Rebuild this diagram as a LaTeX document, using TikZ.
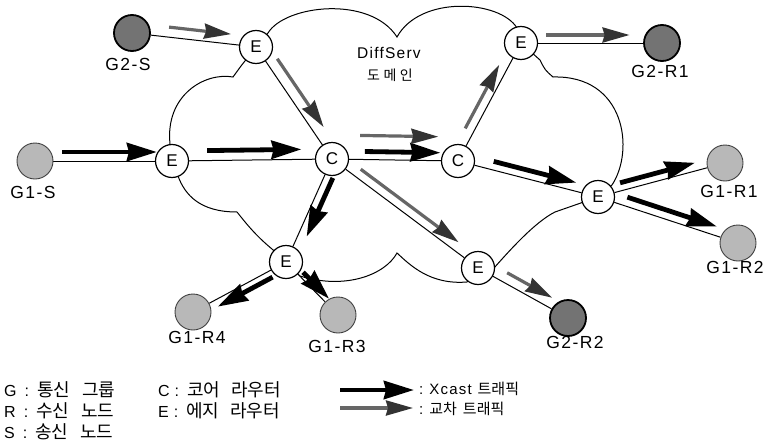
\documentclass[tikz,border=0pt]{standalone}
\usepackage{fontspec}
\setmainfont{Liberation Sans}
\newfontfamily\krl{Noto Sans CJK KR}
\newfontfamily\krd[LetterSpace=25]{Noto Sans CJK KR}
\newfontfamily\lbl[LetterSpace=8]{Liberation Sans}
\newfontfamily\lat[LetterSpace=8]{Liberation Sans}
\usetikzlibrary{arrows.meta,calc,backgrounds}

\tikzset{
  router/.style={circle,draw,line width=1.2pt,fill=white,minimum size=33pt,inner sep=0pt,font=\fontsize{17}{17}\selectfont},
  grpA/.style={circle,draw=black!75,line width=0.9pt,fill=black!28,minimum size=36pt,inner sep=0pt},
  grpB/.style={circle,draw=black,line width=1.8pt,fill=black!55,minimum size=36pt,inner sep=0pt},
  glabel/.style={font=\lbl\fontsize{17.5}{17.5}\selectfont,inner sep=0pt},
  legtext/.style={font=\lat\fontsize{16}{16}\selectfont,anchor=west,inner sep=0pt},
  legsmall/.style={font=\lat\fontsize{15}{15}\selectfont,anchor=west,inner sep=0pt},
  link/.style={line width=1pt},
  cloudline/.style={line width=1pt},
  xcast/.style={line width=4.8pt,-{Stealth[length=30pt,width=18pt,inset=2pt]}},
  cross/.style={line width=3.2pt,draw=black!60,-{Stealth[length=27pt,width=15pt,inset=2pt,color=black!80]}},
}

\newcommand\flow[6]{%
  \draw[#1] ($(#2)!#4!(#3)!#6!90:(#3)$) -- ($(#3)!#5!(#2)!#6!-90:(#2)$);}
\newcommand\kk[1]{{\krl\fontsize{18}{18}\selectfont #1}}
\newcommand\ks[1]{{\krl\fontsize{15}{15}\selectfont #1}}

\begin{document}
\begin{tikzpicture}[x=1pt,y=-1pt]
\useasboundingbox (0,0) rectangle (765,447);

% routers
\node[router] (E1) at (256,47) {E};
\node[router] (E2) at (172,161) {E};
\node[router] (C1) at (332,159) {C};
\node[router] (C2) at (458,161) {C};
\node[router] (E3) at (521,43) {E};
\node[router] (E4) at (598,197) {E};
\node[router] (E5) at (478,268) {E};
\node[router] (E6) at (286,262) {E};

% groups
\node[grpB] (G2S) at (132,33) {};
\node[grpA] (G1S) at (35,161) {};
\node[grpB] (G2R1) at (662,43) {};
\node[grpA] (G1R1) at (725,163) {};
\node[grpA] (G1R2) at (738,243) {};
\node[grpB] (G2R2) at (568,318) {};
\node[grpA] (G1R4) at (193,312) {};
\node[grpA] (G1R3) at (338,315) {};

% group labels
\node[glabel] (lG2S) at (128,64) {G2-S};
\node[glabel] (lG1S) at (33,192) {G1-S};
\node[glabel] (lG2R1) at (660,71) {G2-R1};
\node[glabel] (lG1R1) at (729,191) {G1-R1};
\node[glabel] (lG1R2) at (735,267) {G1-R2};
\node[glabel] (lG1R4) at (197,337) {G1-R4};
\node[glabel] (lG1R3) at (337,346) {G1-R3};
\node[glabel] (lG2R2) at (575,342) {G2-R2};

% domain label
\node[font=\lat\fontsize{15.5}{15.5}\selectfont,inner sep=0pt] (ds) at (389,53) {DiffServ};
\node[font=\krd\fontsize{14}{14}\selectfont,inner sep=0pt] (dm) at (390,75) {도메인};

\begin{pgfonlayer}{background}
% cloud
\draw[cloudline] (E1.center) -- (268,33) .. controls (285,5) and (370,-5) .. (397,37)
  .. controls (420,-5) and (500,0) .. (517,28) -- (E3.center) -- (540,60)
  .. controls (545,70) .. (553,77)
  .. controls (625,75) and (635,150) .. (612,185) -- (E4.center) -- (555,212)
  .. controls (535,222) and (510,250) .. (494,268) -- (E5.center) -- (467,282)
  .. controls (430,285) and (410,265) .. (397,253)
  .. controls (385,275) and (345,290) .. (300,276) -- (E6.center) -- (272,249)
  .. controls (255,235) and (245,222) .. (237,212)
  .. controls (200,212) and (185,195) .. (178,176) -- (E2.center) -- (170,144)
  .. controls (165,95) and (205,72) .. (233,77) -- (241,66) -- (E1.center);
% links
\draw[link] (G2S) -- (E1);
\draw[link] (E1) -- (C1);
\draw[link] (G1S) -- (E2);
\draw[link] (E2) -- (C1);
\draw[link] (C1) -- (C2);
\draw[link] (C2) -- (E3);
\draw[link] (E3) -- (G2R1);
\draw[link] (C2) -- (E4);
\draw[link] (E4) -- (G1R1);
\draw[link] (E4) -- (G1R2);
\draw[link] (C1) -- (E6);
\draw[link] (E6) -- (G1R4);
\draw[link] (E6) -- (G1R3);
\draw[link] (C1) -- (E5);
\draw[link] (E5) -- (G2R2);
\end{pgfonlayer}

% traffic arrows
\flow{xcast}{G1S}{E2}{0.20}{0.11}{9pt}
\flow{xcast}{E2}{C1}{0.22}{0.19}{10pt}
\flow{cross}{G2S}{E1}{0.29}{0.21}{10pt}
\flow{cross}{E1}{C1}{0.16}{0.23}{11pt}
\flow{xcast}{C1}{C2}{0.26}{0.14}{8pt}
\flow{cross}{C1}{C2}{0.22}{0.16}{24pt}
\flow{cross}{C2}{E3}{0.24}{0.22}{9pt}
\flow{cross}{E3}{G2R1}{0.18}{0.23}{8pt}
\flow{xcast}{C2}{E4}{0.24}{0.17}{8.5pt}
\flow{xcast}{E4}{G1R1}{0.19}{0.22}{8pt}
\flow{xcast}{E4}{G1R2}{0.19}{0.17}{9pt}
\flow{xcast}{C1}{E6}{0.15}{0.28}{8.5pt}
\flow{xcast}{E6}{G1R4}{0.18}{0.23}{7pt}
\flow{xcast}{E6}{G1R3}{0.26}{0.24}{5pt}
\flow{cross}{C1}{E5}{0.16}{0.17}{9pt}
\flow{cross}{E5}{G2R2}{0.27}{0.23}{10pt}

% legend
\node[legtext] (lg1) at (4,390) {G\hspace{8pt}:\hspace{8pt}\kk{통신}\hspace{12pt}\kk{그룹}};
\node[legtext] (lg2) at (4,411) {R\hspace{8pt}:\hspace{8pt}\kk{수신}\hspace{12pt}\kk{노드}};
\node[legtext] (lg3) at (4,432) {S\hspace{8pt}:\hspace{8pt}\kk{송신}\hspace{12pt}\kk{노드}};
\node[legtext] (lg4) at (158,390) {C\hspace{5pt}:\hspace{8pt}\kk{코어}\hspace{11pt}\kk{라우터}};
\node[legtext] (lg5) at (158,411) {E\hspace{5pt}:\hspace{8pt}\kk{에지}\hspace{11pt}\kk{라우터}};
\coordinate (la1) at (340,390);
\coordinate (la2) at (414,390);
\coordinate (lb1) at (340,408);
\coordinate (lb2) at (413,408);
\draw[xcast] (la1) -- (la2);
\draw[cross] (lb1) -- (lb2);
\node[legsmall] (lg6) at (419,389) {:\hspace{6pt}Xcast\hspace{6pt}\ks{트래픽}};
\node[legsmall] (lg7) at (419,409) {:\hspace{6pt}\ks{교차}\hspace{6pt}\ks{트래픽}};
\end{tikzpicture}
\end{document}
